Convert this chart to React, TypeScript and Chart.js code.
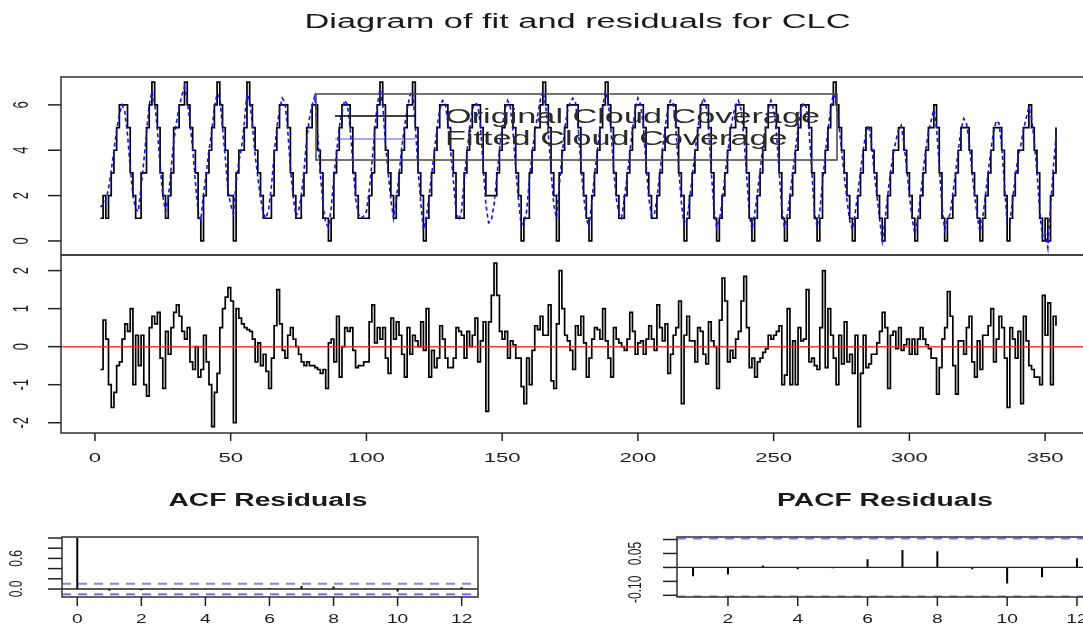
import React, { useEffect, useRef } from "react";
import { Chart, registerables } from "chart.js";

Chart.register(...registerables);

const FONT = '"Liberation Sans", Arial, Helvetica, sans-serif';
const W = 1100;
const H = 625;

// ---------------- data ----------------
const firstIndex = 2;

const originalCloud = [
  1, 2, 1, 2, 3, 4, 5, 6, 6, 6, 5, 3,
  2, 1, 1, 3, 3, 5, 6, 7, 6, 5, 3, 2,
  1, 2, 3, 5, 5, 6, 6, 7, 6, 5, 4, 3,
  1, 0, 2, 3, 4, 5, 6, 7, 6, 5, 4, 2,
  2, 0, 3, 4, 4, 5, 7, 6, 5, 4, 3, 2,
  1, 1, 1, 2, 4, 5, 6, 6, 6, 5, 3, 2,
  1, 1, 2, 3, 5, 5, 6, 6, 4, 3, 1, 1,
  0, 1, 3, 4, 5, 6, 6, 6, 5, 3, 2, 1,
  1, 1, 1, 2, 3, 5, 6, 7, 6, 4, 3, 2,
  1, 2, 3, 4, 5, 6, 6, 7, 5, 3, 2, 0,
  1, 2, 3, 4, 5, 6, 6, 6, 5, 4, 3, 1,
  1, 1, 3, 4, 5, 6, 6, 6, 5, 3, 2, 2,
  2, 2, 3, 4, 5, 6, 6, 6, 5, 3, 2, 0,
  1, 1, 3, 4, 5, 5, 6, 7, 6, 5, 3, 2,
  0, 3, 4, 5, 6, 6, 6, 6, 5, 3, 2, 1,
  0, 2, 3, 4, 5, 6, 7, 6, 5, 3, 2, 1,
  1, 2, 3, 4, 5, 6, 6, 6, 5, 3, 2, 1,
  1, 2, 3, 4, 5, 6, 6, 6, 5, 3, 2, 0,
  1, 2, 3, 4, 5, 6, 6, 6, 5, 3, 1, 0,
  1, 2, 3, 4, 5, 5, 6, 6, 6, 5, 3, 1,
  0, 1, 2, 3, 4, 5, 6, 6, 6, 5, 3, 1,
  0, 1, 2, 3, 4, 5, 6, 6, 6, 5, 3, 1,
  0, 1, 3, 4, 5, 6, 7, 6, 5, 4, 3, 2,
  1, 0, 1, 2, 3, 4, 5, 5, 4, 3, 2, 1,
  0, 1, 2, 3, 4, 4, 5, 5, 4, 3, 2, 1,
  0, 1, 2, 3, 4, 5, 5, 6, 5, 3, 1, 0,
  1, 1, 2, 3, 4, 5, 5, 5, 4, 3, 2, 1,
  0, 1, 2, 3, 4, 5, 5, 5, 4, 2, 0, 1,
  2, 3, 4, 4, 5, 5, 6, 5, 4, 3, 1, 0,
  1, 0, 2, 3, 5,
];

const fittedCloud = [
  1.5, 1.6, 1.8, 2.3, 3.1, 4.0, 4.9, 5.6, 6.0, 5.7, 4.7, 3.2,
  2.0, 1.4, 1.3, 2.4, 3.5, 4.8, 6.0, 6.6, 6.1, 4.9, 3.3, 2.0,
  1.3, 1.9, 3.1, 4.4, 5.2, 5.9, 6.4, 6.8, 6.2, 5.2, 4.1, 2.6,
  1.3, 0.9, 2.1, 3.0, 4.0, 4.8, 5.9, 6.5, 6.3, 5.0, 3.7, 2.2,
  1.6, 1.2, 2.6, 3.5, 4.1, 5.2, 6.5, 6.2, 5.1, 3.8, 2.8, 1.9,
  1.2, 1.0, 1.4, 2.4, 3.8, 5.0, 5.8, 6.3, 6.1, 4.9, 3.2, 2.0,
  1.1, 1.3, 2.0, 3.1, 4.5, 5.4, 6.0, 6.4, 4.8, 3.0, 1.6, 0.8,
  0.6, 1.4, 2.8, 3.9, 5.0, 5.7, 6.2, 6.0, 5.0, 3.4, 1.9, 1.2,
  1.0, 1.1, 1.3, 2.2, 3.4, 4.8, 6.0, 6.7, 6.0, 4.3, 3.0, 1.8,
  1.0, 1.8, 2.9, 4.1, 5.0, 5.8, 6.4, 6.6, 5.1, 3.2, 1.7, 0.5,
  1.0, 1.9, 2.9, 3.9, 5.0, 5.8, 6.2, 6.1, 5.2, 4.0, 2.7, 1.3,
  0.9, 1.3, 2.7, 3.9, 4.9, 5.8, 6.1, 6.0, 5.1, 3.3, 1.6, 0.8,
  0.9, 1.6, 2.8, 4.0, 5.0, 5.8, 6.2, 5.9, 4.8, 3.2, 1.8, 0.7,
  0.8, 1.3, 2.7, 3.8, 4.8, 5.5, 6.2, 6.6, 6.0, 4.7, 3.1, 1.6,
  1.0, 2.4, 3.7, 4.9, 5.7, 6.1, 6.3, 6.1, 5.0, 3.3, 2.0, 1.0,
  0.6, 1.7, 2.9, 3.9, 5.0, 5.9, 6.6, 6.2, 5.0, 3.3, 1.9, 1.2,
  1.0, 1.9, 2.8, 3.9, 4.9, 5.8, 6.3, 6.0, 5.1, 3.4, 1.9, 1.1,
  1.1, 1.9, 2.9, 4.0, 5.0, 5.8, 6.2, 6.1, 4.9, 3.2, 1.7, 0.7,
  0.9, 1.8, 2.8, 3.9, 4.9, 5.7, 6.3, 6.1, 5.0, 3.1, 1.4, 0.6,
  0.9, 1.7, 2.8, 3.8, 4.8, 5.5, 6.0, 6.2, 5.8, 4.6, 3.0, 1.2,
  0.5, 1.2, 2.1, 3.1, 4.1, 5.0, 5.8, 6.2, 5.8, 4.8, 3.1, 1.4,
  0.6, 1.1, 2.0, 3.0, 4.0, 5.0, 5.8, 6.1, 5.9, 4.9, 3.2, 1.3,
  0.6, 1.3, 2.6, 3.8, 4.9, 5.8, 6.5, 6.1, 5.2, 4.0, 2.9, 1.8,
  0.9, 0.5, 1.2, 2.1, 3.1, 4.0, 4.8, 5.1, 4.3, 3.1, 2.0, 1.0,
  0.0, 0.9, 2.0, 3.0, 3.8, 4.4, 4.9, 5.1, 4.3, 3.2, 2.0, 1.0,
  0.3, 0.9, 1.9, 3.0, 4.0, 4.8, 5.3, 5.8, 5.0, 3.3, 1.5, 0.5,
  0.9, 1.2, 2.1, 3.0, 4.0, 4.9, 5.4, 5.2, 4.4, 3.1, 2.0, 1.1,
  0.4, 1.0, 2.0, 3.0, 4.0, 4.8, 5.3, 5.2, 4.2, 2.5, 0.8, 0.8,
  1.8, 2.8, 3.7, 4.2, 4.9, 5.4, 5.9, 5.4, 4.4, 3.0, 1.3, 0.2,
  0.4, -0.3, 1.5, 3.2, 4.6,
];

const residuals = [
  -0.6, 0.7, 0.2, -1.0, -1.6, -1.2, -0.5, -0.4, 0.2, 0.6, 0.4, 1.0,
  -1.0, 0.3, -0.5, 0.3, -1.0, -1.3, 0.5, 0.8, 0.6, 0.9, -0.3, -1.1,
  0.4, -0.2, 0.5, 0.9, 1.1, 0.8, 0.4, 0.2, 0.5, -0.4, -0.6, 0.0,
  -0.8, -0.6, 0.3, -0.4, -1.0, -2.1, -1.2, -0.7, 0.5, 1.0, 1.3, 1.55,
  1.2, -2.0, 1.0, 0.75, 0.6, 0.5, 0.45, 0.4, 0.2, -0.4, 0.1, -0.5,
  -0.2, -0.65, -1.1, -0.3, 0.55, 1.5, 0.6, -0.1, -0.3, 0.3, 0.5, 0.2,
  0.0, -0.2, -0.4, -0.5, -0.4, -0.5, -0.5, -0.55, -0.6, -0.7, -0.6, -1.1,
  0.1, 0.2, -0.4, 0.8, -0.8, 0.0, 0.5, 0.4, 0.5, -0.1, -0.55, -0.5,
  -0.5, -0.4, -0.4, 0.65, 1.1, 0.1, 0.5, 0.2, 0.5, -0.3, -0.7, 0.75,
  0.2, 0.65, 0.3, -0.2, -0.8, 0.5, -0.2, 0.3, 0.15, 0.0, 0.65, -0.1,
  1.0, -0.8, -0.1, -0.55, -0.3, 0.55, 0.2, -0.3, -0.55, -0.55, -0.3, 0.5,
  0.4, 0.3, -0.3, 0.4, 0.0, 0.3, 0.75, -0.4, 0.15, 0.65, -1.7, 0.65,
  1.35, 2.2, 1.35, 0.4, 0.2, 0.4, -0.3, 0.15, 0.05, -0.3, -0.3, -1.05,
  -1.5, -0.3, -1.0, -0.1, 0.55, 0.45, 0.8, 0.3, 0.3, 1.1, -0.9, -1.1,
  0.6, 2.0, 1.0, 0.3, 0.15, -0.1, -0.6, 0.55, 0.3, 0.8, 0.1, -0.8,
  -0.3, 0.2, 0.5, 0.45, 0.2, 1.0, 0.15, -0.3, -0.8, 0.5, 0.2, 0.1,
  0.0, -0.1, 0.2, 0.9, 0.4, -0.2, 0.1, 0.15, -0.2, 0.2, 0.55, 0.2,
  -0.1, 1.1, 0.5, 0.15, 0.6, -0.7, -0.2, 0.3, 0.5, 1.2, -1.5, 0.3,
  0.8, 0.15, 0.15, -0.4, 0.5, 0.4, -0.2, -0.45, 0.65, 0.15, 0.0, -1.1,
  0.7, 1.8, 1.2, -0.4, -0.1, -0.3, 0.2, 0.4, 1.2, 1.85, 0.5, -0.55,
  -0.3, -0.8, -0.4, -0.3, -0.15, -0.05, 0.3, 0.2, 0.3, 0.4, 0.55, -1.0,
  -0.75, 1.0, -1.0, 0.15, -1.0, 0.5, 0.15, 0.2, 1.5, -0.4, -0.3, -0.5,
  -0.6, 0.5, 2.0, -0.55, 1.0, 0.3, -0.3, -1.0, 0.3, -0.45, 0.65, -0.4,
  -0.2, -0.7, 0.3, -2.1, -0.7, 0.3, -0.55, -0.45, -0.2, -0.2, 0.1, 0.4,
  0.9, 0.5, -1.1, 0.3, 0.4, -0.05, 0.5, -0.1, 0.05, 0.2, -0.2, 0.2,
  -0.2, 0.2, 0.5, 0.2, 0.05, -0.05, -0.3, -0.3, -1.25, -0.55, 0.2, 0.5,
  1.45, 0.8, -0.5, -1.25, 0.15, 0.15, -0.2, 0.5, 0.8, -0.4, -0.8, 0.15,
  -0.6, 0.3, 0.3, 0.55, 1.0, -0.4, 0.2, 0.8, 0.5, -0.3, -1.6, 0.5,
  0.2, -0.3, 0.4, -1.5, 0.8, 0.15, -0.5, -0.6, -0.8, -0.8, -1.0, 1.35,
  0.3, 1.15, -1.0, 0.8, 0.55,
];

const acfLags = [0, 1, 2, 3, 4, 5, 6, 7, 8, 9, 10, 11, 12];
const acfValues = [1.0, -0.032, -0.024, 0.006, -0.01, -0.004, 0.02, 0.06, 0.05, -0.01, -0.05, -0.02, 0.035];
const pacfLags = [1, 2, 3, 4, 5, 6, 7, 8, 9, 10, 11, 12];
const pacfValues = [-0.032, -0.025, 0.007, -0.007, -0.003, 0.029, 0.062, 0.058, -0.007, -0.058, -0.035, 0.033];
const ciLevel = 0.104;

const mainXTicks = [0, 50, 100, 150, 200, 250, 300, 350];
const fitYTicks = [0, 2, 4, 6];
const resYTicks = [-2, -1, 0, 1, 2];
const acfXTicks = [0, 2, 4, 6, 8, 10, 12];
const acfYTicks = [0, 0.2, 0.4, 0.6, 0.8, 1.0];
const acfYLabels = ["0.0", "", "", "0.6", "", ""];
const pacfXTicks = [2, 4, 6, 8, 10, 12];
const pacfYTicks = [-0.1, -0.05, 0, 0.05, 0.1];
const pacfYLabels = ["-0.10", "", "", "0.05", ""];

const titleText = "Diagram of fit and residuals for CLC";
const legendLabels = ["Original Cloud Coverage", "Fitted Cloud Coverage"];

// ---------------- helpers ----------------
type TextOpts = {
  size: number;
  bold?: boolean;
  sx?: number;
  width?: number;
  rotate?: boolean;
  align?: CanvasTextAlign;
  color?: string;
};

function drawText(ctx: CanvasRenderingContext2D, text: string, x: number, y: number, o: TextOpts) {
  ctx.save();
  ctx.font = `${o.bold ? "bold " : ""}${o.size}px ${FONT}`;
  ctx.fillStyle = o.color ?? "#1c1c1c";
  ctx.textAlign = o.align ?? "center";
  ctx.textBaseline = "middle";
  let sx = o.sx ?? 1;
  if (o.width) sx = o.width / ctx.measureText(text).width;
  ctx.translate(x, y);
  ctx.scale(sx, 1);
  if (o.rotate) ctx.rotate(-Math.PI / 2);
  ctx.fillText(text, 0, 0);
  ctx.restore();
  return sx;
}

type Decor = {
  yTicks?: number[];
  yLabels?: string[];
  yLabelX?: number;
  yLabelDy?: number[];
  xTicks?: number[];
  xLabels?: string[];
  xLabelY?: number;
  labelSize: number;
  labelSx: number;
  tickLenH: number;
  tickLenV: number;
  extra?: (ctx: CanvasRenderingContext2D, chart: any) => void;
};

function decorPlugin(d: Decor) {
  return {
    id: "decor",
    afterDraw(chart: any) {
      const ctx: CanvasRenderingContext2D = chart.ctx;
      const a = chart.chartArea;
      const xs = chart.scales.x;
      const ys = chart.scales.y;
      ctx.save();
      ctx.strokeStyle = "#3c3c3c";
      ctx.lineWidth = 1.6;
      ctx.strokeRect(a.left, a.top, a.right - a.left, a.bottom - a.top);
      ctx.strokeStyle = "#222";
      ctx.lineWidth = 1.5;
      (d.yTicks || []).forEach((v, i) => {
        const py = ys.getPixelForValue(v);
        ctx.beginPath();
        ctx.moveTo(a.left, py);
        ctx.lineTo(a.left - d.tickLenH, py);
        ctx.stroke();
        const lab = d.yLabels ? d.yLabels[i] : String(v);
        if (lab) {
          drawText(ctx, lab, d.yLabelX ?? 20, py + (d.yLabelDy ? d.yLabelDy[i] : 0), {
            size: d.labelSize,
            sx: d.labelSx,
            rotate: true,
          });
        }
      });
      (d.xTicks || []).forEach((v, i) => {
        const px = xs.getPixelForValue(v);
        ctx.beginPath();
        ctx.moveTo(px, a.bottom);
        ctx.lineTo(px, a.bottom + d.tickLenV);
        ctx.stroke();
        const lab = d.xLabels ? d.xLabels[i] : String(v);
        if (lab) drawText(ctx, lab, px, d.xLabelY ?? a.bottom + 20, { size: d.labelSize, sx: d.labelSx });
      });
      ctx.restore();
      if (d.extra) d.extra(ctx, chart);
    },
  };
}

type Box = { l: number; t: number; r: number; b: number };

function makeConfig(datasets: any[], box: Box, xr: [number, number], yr: [number, number], decor: Decor) {
  return {
    type: "line",
    data: { datasets },
    options: {
      animation: false,
      responsive: false,
      devicePixelRatio: 1,
      events: [],
      layout: { padding: { left: box.l, top: box.t, right: W - box.r, bottom: H - box.b } },
      plugins: { legend: { display: false }, tooltip: { enabled: false }, title: { display: false } },
      scales: {
        x: { type: "linear", min: xr[0], max: xr[1], display: false },
        y: { type: "linear", min: yr[0], max: yr[1], display: false },
      },
      elements: { point: { radius: 0 }, line: { tension: 0 } },
    },
    plugins: [decorPlugin(decor)],
  };
}

const series = (vals: number[]) => vals.map((v, i) => ({ x: firstIndex + i, y: v }));
const hline = (y: number, x0: number, x1: number) => [
  { x: x0, y },
  { x: x1, y },
];
const spikes = (lags: number[], vals: number[]) =>
  lags.flatMap((lag, i) => [
    { x: lag, y: 0 },
    { x: lag, y: vals[i] },
    { x: lag, y: null },
  ]);

const MAIN_X: [number, number] = [-12.5, 368];
const ACF_X: [number, number] = [-0.477, 12.51];
const PACF_X: [number, number] = [0.54, 12.46];

function buildFit() {
  return makeConfig(
    [
      {
        data: series(fittedCloud),
        borderColor: "#1010ff",
        borderWidth: 1.6,
        borderDash: [4, 3],
        pointRadius: 0,
        fill: false,
      },
      {
        data: series(originalCloud),
        borderColor: "#000",
        borderWidth: 1.7,
        stepped: true,
        pointRadius: 0,
        fill: false,
      },
    ],
    { l: 61, t: 77, r: 1094, b: 255 },
    MAIN_X,
    [-0.62, 7.23],
    {
      yTicks: fitYTicks,
      yLabelX: 22,
      labelSize: 13,
      labelSx: 1.7,
      tickLenH: 13,
      tickLenV: 8,
      extra: (ctx) => {
        drawText(ctx, titleText, 577.5, 22, { size: 20, width: 546, color: "#1a1a1a" });
        ctx.save();
        ctx.strokeStyle = "#444";
        ctx.lineWidth = 1.5;
        ctx.strokeRect(316, 94, 521, 66);
        ctx.strokeStyle = "#000";
        ctx.lineWidth = 1.6;
        ctx.beginPath();
        ctx.moveTo(335, 116);
        ctx.lineTo(415, 116);
        ctx.stroke();
        ctx.strokeStyle = "rgba(60,60,255,0.6)";
        ctx.beginPath();
        ctx.moveTo(335, 139);
        ctx.lineTo(415, 139);
        ctx.stroke();
        ctx.restore();
        const sx = drawText(ctx, legendLabels[0], 445, 117, { size: 20, width: 375, align: "left", color: "#2a2a2a" });
        drawText(ctx, legendLabels[1], 445, 139, { size: 20, sx, align: "left", color: "#2a2a2a" });
      },
    }
  );
}

function buildRes() {
  return makeConfig(
    [
      {
        data: hline(0, MAIN_X[0], MAIN_X[1]),
        borderColor: "rgba(255,30,30,0.85)",
        borderWidth: 1.5,
        pointRadius: 0,
      },
      {
        data: series(residuals),
        borderColor: "#000",
        borderWidth: 1.7,
        stepped: true,
        pointRadius: 0,
        fill: false,
      },
    ],
    { l: 61, t: 255, r: 1094, b: 433 },
    MAIN_X,
    [-2.27, 2.41],
    {
      yTicks: resYTicks,
      yLabelX: 22,
      xTicks: mainXTicks,
      xLabelY: 458,
      labelSize: 13,
      labelSx: 1.7,
      tickLenH: 13,
      tickLenV: 8,
    }
  );
}

function buildAcf() {
  return makeConfig(
    [
      { data: hline(ciLevel, ACF_X[0], ACF_X[1]), borderColor: "rgba(90,90,255,0.75)", borderWidth: 2, borderDash: [9, 7], pointRadius: 0 },
      { data: hline(-ciLevel, ACF_X[0], ACF_X[1]), borderColor: "rgba(90,90,255,0.85)", borderWidth: 2, borderDash: [9, 7], pointRadius: 0 },
      { data: hline(0, ACF_X[0], ACF_X[1]), borderColor: "#222", borderWidth: 1.3, pointRadius: 0 },
      { data: spikes(acfLags, acfValues), borderColor: "#000", borderWidth: 2, pointRadius: 0, spanGaps: false },
    ],
    { l: 62, t: 537, r: 478, b: 597 },
    ACF_X,
    [-0.157, 1.02],
    {
      yTicks: acfYTicks,
      yLabels: acfYLabels,
      yLabelX: 17,
      xTicks: acfXTicks,
      xLabelY: 620,
      labelSize: 12,
      labelSx: 1.6,
      tickLenH: 14,
      tickLenV: 9,
      extra: (ctx) => {
        drawText(ctx, "ACF Residuals", 268, 501, { size: 18, bold: true, width: 199, color: "#1a1a1a" });
      },
    }
  );
}

function buildPacf() {
  return makeConfig(
    [
      { data: hline(ciLevel, PACF_X[0], PACF_X[1]), borderColor: "rgba(90,90,255,0.8)", borderWidth: 2, borderDash: [9, 7], pointRadius: 0 },
      { data: hline(-ciLevel, PACF_X[0], PACF_X[1]), borderColor: "rgba(90,90,255,0.8)", borderWidth: 2, borderDash: [9, 7], pointRadius: 0 },
      { data: hline(0, PACF_X[0], PACF_X[1]), borderColor: "#222", borderWidth: 1.3, pointRadius: 0 },
      { data: spikes(pacfLags, pacfValues), borderColor: "#000", borderWidth: 2, pointRadius: 0, spanGaps: false },
    ],
    { l: 677, t: 537, r: 1093, b: 597 },
    PACF_X,
    [-0.106, 0.109],
    {
      yTicks: pacfYTicks,
      yLabels: pacfYLabels,
      yLabelDy: [-6, 0, 0, 0, 0],
      yLabelX: 636,
      xTicks: pacfXTicks,
      xLabelY: 620,
      labelSize: 12,
      labelSx: 1.6,
      tickLenH: 14,
      tickLenV: 9,
      extra: (ctx) => {
        drawText(ctx, "PACF Residuals", 885, 501, { size: 18, bold: true, width: 216, color: "#1a1a1a" });
      },
    }
  );
}

function Panel({ build }: { build: () => any }) {
  const ref = useRef<HTMLCanvasElement>(null);
  useEffect(() => {
    if (!ref.current) return;
    const chart = new Chart(ref.current, build() as any);
    return () => chart.destroy();
  }, [build]);
  return (
    <canvas
      ref={ref}
      width={W}
      height={H}
      style={{ position: "absolute", left: 0, top: 0, width: W, height: H }}
    />
  );
}

export default function App() {
  return (
    <div
      style={{
        position: "fixed",
        left: 0,
        top: 0,
        width: 1083,
        height: 625,
        overflow: "hidden",
        background: "#ffffff",
      }}
    >
      <Panel build={buildFit} />
      <Panel build={buildRes} />
      <Panel build={buildAcf} />
      <Panel build={buildPacf} />
    </div>
  );
}
